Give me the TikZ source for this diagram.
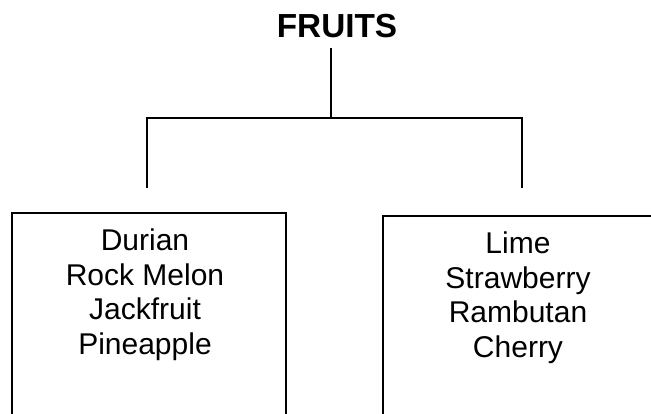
\documentclass[tikz,border=0pt]{standalone}
\usepackage{fontspec}
\setmainfont{Liberation Sans}
\usepackage{tikz}
\usetikzlibrary{positioning}
\tikzset{
  fruitbox/.style={draw, anchor=north west, inner sep=0pt},
  listtext/.style={align=center, anchor=north, font=\fontsize{22.5}{26}\selectfont, inner sep=0pt},
  titletext/.style={font=\fontsize{25}{30}\selectfont\bfseries, inner sep=0pt}
}

\begin{document}
\begin{tikzpicture}[x=0.75pt, y=-0.75pt, line width=1.2pt]
\useasboundingbox (0,0) rectangle (651,414);
\clip (0,0) rectangle (651,414);

  \node[titletext] (fruits) at (337,26) {FRUITS};

  \coordinate (stem) at (331,48);
  \coordinate (split) at (331,118);
  \coordinate (lefttop) at (147,118);
  \coordinate (righttop) at (522,118);
  \coordinate (leftdrop) at (147,188);
  \coordinate (rightdrop) at (522,188);

  \node[fruitbox, minimum width=205.5pt, minimum height=190pt] (leftbox) at (11,212) {};
  \node[fruitbox, minimum width=225pt, minimum height=190pt] (rightbox) at (382,215) {};

  \node[listtext] (leftlist) at (145,228)
    {Durian\\Rock Melon\\Jackfruit\\Pineapple};
  \node[listtext] (rightlist) at (518,231)
    {Lime\\Strawberry\\Rambutan\\Cherry};

\draw (stem) -- (split);
\draw (leftdrop) -- (lefttop) -- (righttop) -- (rightdrop);

\end{tikzpicture}
\end{document}
